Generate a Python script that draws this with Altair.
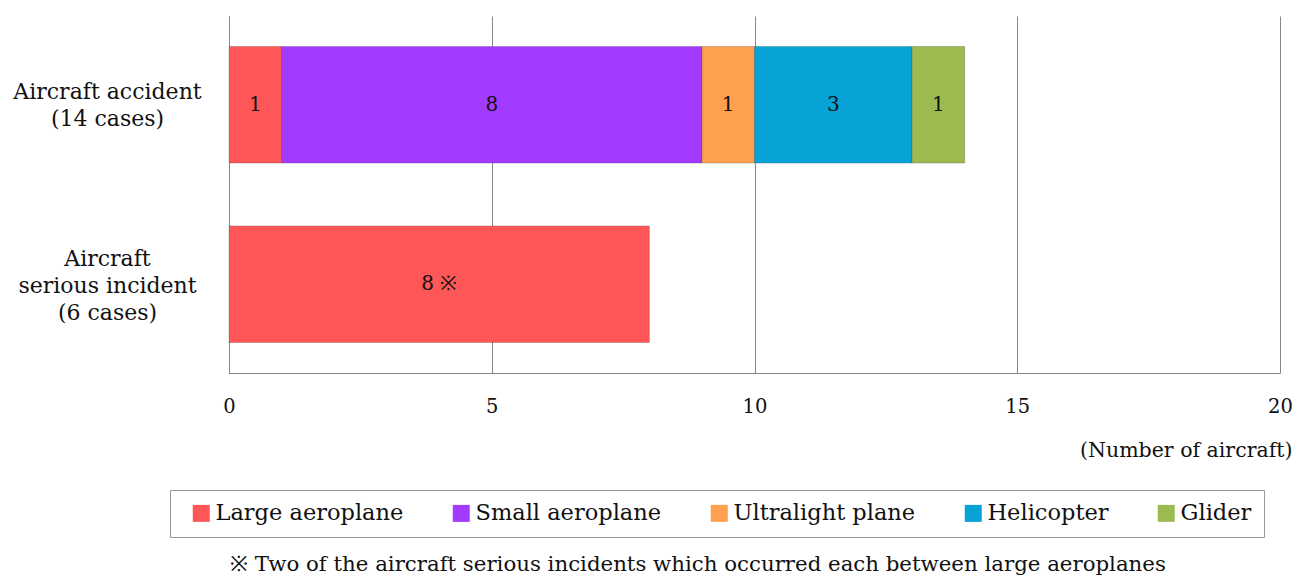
import altair as alt
import pandas as pd

categories = ["Aircraft accident|(14 cases)", "Aircraft|serious incident|(6 cases)"]
types = ["Large aeroplane", "Small aeroplane", "Ultralight plane", "Helicopter", "Glider"]
colors = ["#FF5757", "#A33BFF", "#FFA04E", "#07A3D7", "#9BBB50"]
accident_values = [1, 8, 1, 3, 1]
incident_values = [8, 0, 0, 0, 0]
incident_labels = ["8 ※", "", "", "", ""]
x_ticks = [0, 5, 10, 15, 20]
footnote = "※  Two of the aircraft serious incidents which occurred each between large aeroplanes"
x_title = "(Number of aircraft)"

rows = []
for i, t in enumerate(types):
    if accident_values[i] > 0:
        rows.append({"cat": categories[0], "type": t, "order": i,
                     "value": accident_values[i], "label": str(accident_values[i])})
    if incident_values[i] > 0:
        rows.append({"cat": categories[1], "type": t, "order": i,
                     "value": incident_values[i], "label": incident_labels[i]})
df = pd.DataFrame(rows)

FONT = "DejaVu Serif"
LINE_H = 27
W = 1051
PAD_SPACES = "\u00a0" * 8

base = alt.Chart(df).transform_stack(
    stack="value", groupby=["cat"], as_=["x0", "x1"],
    sort=[alt.SortField("order", order="ascending")]
).transform_calculate(mid="(datum.x0 + datum.x1) / 2")

y_enc = alt.Y(
    "cat:N", sort=categories, title=None,
    scale=alt.Scale(paddingInner=0.35, paddingOuter=0.17),
    axis=alt.Axis(labelExpr="split(datum.label, '|')", labelAlign="center",
                  labelBaseline="middle", labelPadding=122, ticks=False,
                  labelOffset={"condition": {"test": f"datum.value == '{categories[0]}'",
                                             "value": -13},
                               "value": -25},
                  labelLimit=400,
                  domainColor="#888", labelFont=FONT, labelFontSize=22,
                  labelLineHeight=LINE_H, labelColor="#111", grid=False)
)

bars = base.mark_bar(stroke="#00000030", strokeWidth=1).encode(
    x=alt.X("x0:Q", scale=alt.Scale(domain=[0, 20], nice=False),
            axis=alt.Axis(values=x_ticks, ticks=False, grid=True, gridColor="#888",
                          domainColor="#888", labelFont=FONT, labelFontSize=19.5,
                          labelColor="#111", labelPadding=24, labelFlush=False,
                          title=x_title, titleFont=FONT, titleFontSize=20.5,
                          titleFontWeight="normal", titleColor="#111",
                          titleX=W + 12, titleY=77, titleAlign="right",
                          titleBaseline="middle", titleAnchor="end")),
    x2="x1:Q",
    y=y_enc,
    color=alt.Color("type:N", sort=types,
                    scale=alt.Scale(domain=types, range=colors),
                    legend=alt.Legend(title=None, orient="none", direction="horizontal",
                                      legendX=-59, legendY=474, columns=5,
                                      columnPadding=38, symbolType="square",
                                      symbolSize=289, symbolStrokeWidth=0,
                                      symbolOffset=8,
                                      labelExpr=f"datum.label == 'Glider' ? 'Glider{PAD_SPACES}' : datum.label",
                                      labelOffset=3, labelFont=FONT, labelFontSize=22.5,
                                      labelColor="#111", labelLimit=400,
                                      strokeColor="#999", fillColor="white",
                                      padding=12)),
    order=alt.Order("order:Q")
)

labels = base.mark_text(font=FONT, fontSize=20, color="#111").encode(
    x=alt.X("mid:Q"),
    y=alt.Y("cat:N", sort=categories),
    text="label:N"
)

foot = alt.Chart(pd.DataFrame({"t": [footnote]})).mark_text(
    font=FONT, fontSize=21.3, color="#111", align="left", baseline="middle"
).encode(x=alt.value(1), y=alt.value(549), text="t:N")

chart = alt.layer(bars, labels, foot).properties(
    width=W, height=357,
    autosize=alt.AutoSizeParams(type="none"),
    padding={"left": 221, "top": 8, "right": 13, "bottom": 204}
).configure_view(stroke=None)

chart.save("out.html", embed_options={"renderer": "svg", "actions": False})
